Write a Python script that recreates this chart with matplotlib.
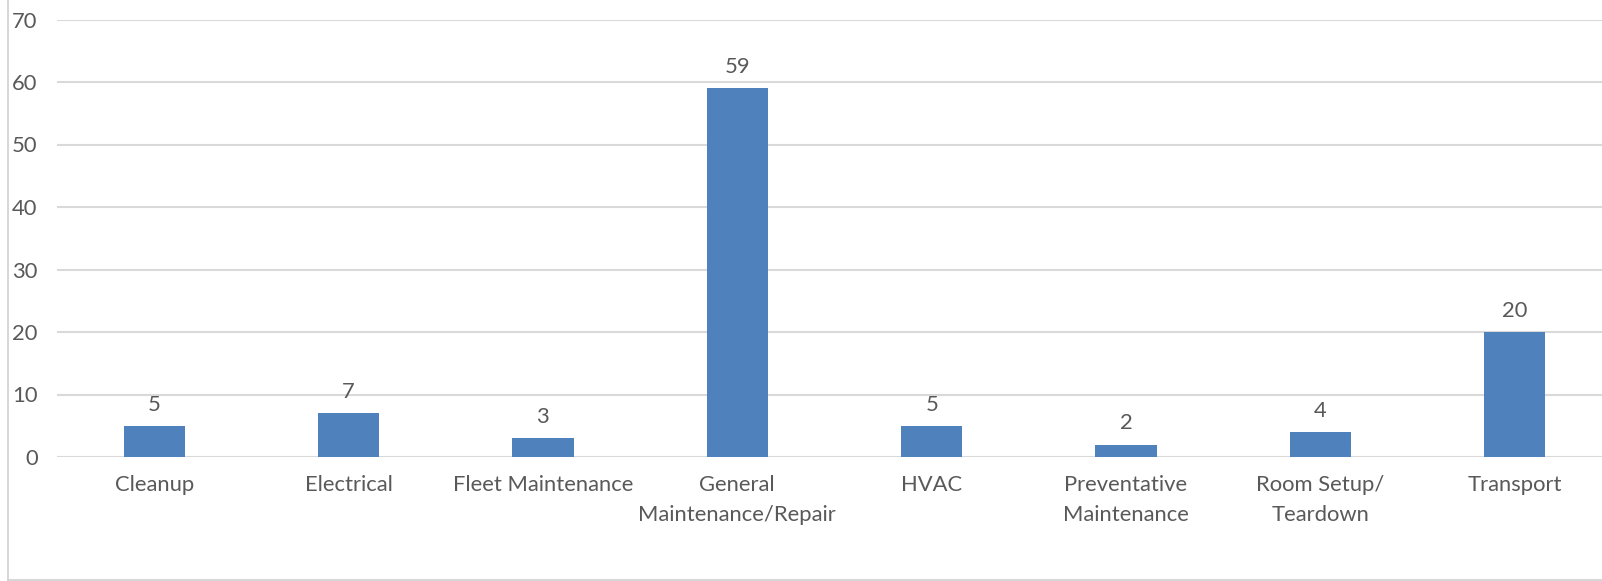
import matplotlib.pyplot as plt
from matplotlib.lines import Line2D

categories = [
    "Cleanup",
    "Electrical",
    "Fleet Maintenance",
    "General\nMaintenance/Repair",
    "HVAC",
    "Preventative\nMaintenance",
    "Room Setup/\nTeardown",
    "Transport",
]
counts = [5, 7, 3, 59, 5, 2, 4, 20]
yticks = [0, 10, 20, 30, 40, 50, 60, 70]

W, H = 1602, 581
fig = plt.figure(figsize=(W / 100, H / 100), dpi=100)
plt.rcParams["font.family"] = ["Lato", "DejaVu Sans"]

# plot area in pixels (right edge runs past the crop of the original)
left, right, top, bottom = 57, 1612, 19.5, 457
ax = fig.add_axes([left / W, 1 - bottom / H, (right - left) / W, (bottom - top) / H])

text_color = "#595959"
fs = 15.8
x = range(len(categories))
bars = ax.bar(x, counts, width=0.315, color="#4f81bd", zorder=3)

for rect, val in zip(bars, counts):
    ax.annotate(str(val), (rect.get_x() + rect.get_width() / 2, val),
                xytext=(0, 8), textcoords="offset points",
                ha="center", va="bottom", fontsize=fs, color=text_color)

ax.set_xlim(-0.5, len(categories) - 0.5)
ax.set_ylim(0, 70)
ax.set_yticks(yticks)
ax.set_xticks(list(x))
ax.set_xticklabels(categories, fontsize=fs, color=text_color, linespacing=1.6)
ax.tick_params(axis="y", length=0, pad=14, labelsize=fs, labelcolor=text_color)
ax.tick_params(axis="x", length=0, pad=13)
ax.grid(axis="y", color="#d9d9d9", linewidth=1.5, zorder=0)
for s in ax.spines.values():
    s.set_visible(False)

# chart frame, left and bottom edges visible in the crop
fig.add_artist(Line2D([7.5 / W, 7.5 / W], [0, 1], color="#d0d0d0", linewidth=1.2))
fig.add_artist(Line2D([7.5 / W, 1], [0.8 / H, 0.8 / H], color="#d0d0d0", linewidth=1.2))

fig.savefig("out.png", dpi=100)
